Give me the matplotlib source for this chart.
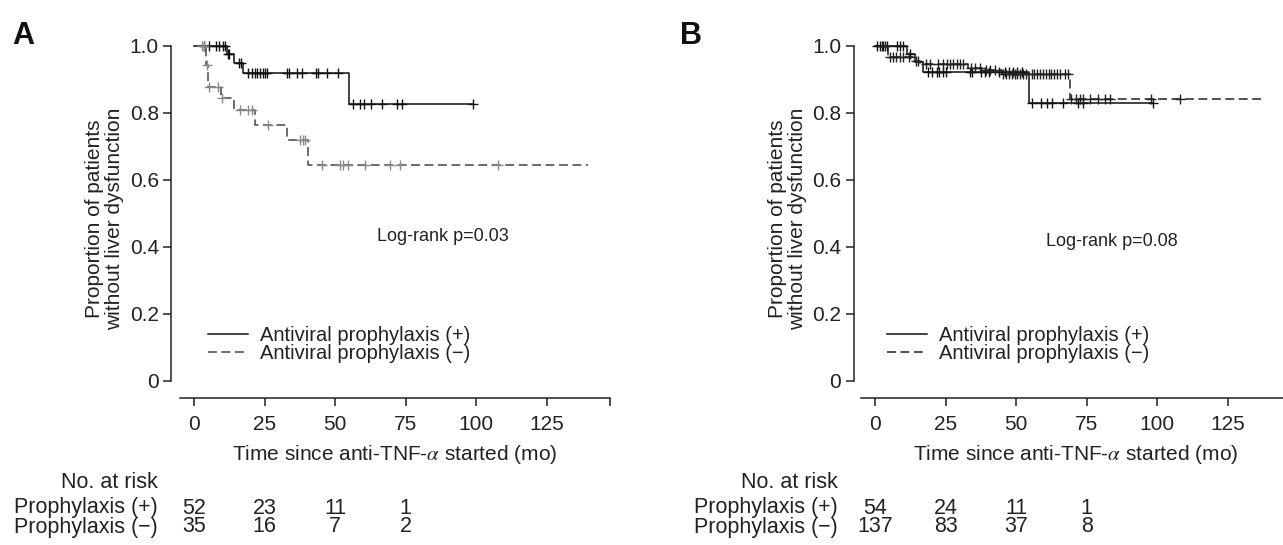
import numpy as np
import matplotlib
matplotlib.use("Agg")
import matplotlib.pyplot as plt
from matplotlib.lines import Line2D

plt.rcParams['font.family'] = ['Liberation Sans', 'DejaVu Sans']
plt.rcParams['mathtext.fontset'] = 'stix'

# ---------------- data ----------------
# Panel A
A_pos_event_t = [11.6, 14.2, 17.2, 54.8]
A_pos_event_s = [0.975, 0.948, 0.918, 0.827]
A_pos_end = 98.9
A_pos_cens = [3.5, 5.4, 7.8, 9.0, 10.2, 11.1, 11.9, 12.5, 16.1, 16.7, 19.2, 20.4,
              21.6, 22.4, 23.4, 24.3, 25.1, 25.9, 32.8, 33.6, 36.4, 38.4, 43.4,
              44.0, 47.0, 51.1, 56.2, 58.8, 60.2, 62.9, 66.8, 72.0, 73.9, 98.9]

A_neg_event_t = [4.3, 4.8, 9.4, 14.3, 21.6, 32.8, 40.5]
A_neg_event_s = [0.943, 0.879, 0.844, 0.809, 0.764, 0.719, 0.645]
A_neg_end = 139.5
A_neg_cens = [3.0, 3.6, 4.6, 5.2, 8.6, 10.0, 16.3, 19.2, 20.4, 26.3, 37.5, 38.5,
              39.3, 45.2, 51.7, 52.9, 54.6, 60.6, 69.4, 72.9, 107.8]

# Panel B
B_pos_event_t = [11.2, 14.2, 16.9, 54.6]
B_pos_event_s = [0.976, 0.952, 0.923, 0.831]
B_pos_end = 98.5
B_pos_cens = [0.6, 1.8, 3.0, 4.1, 7.7, 8.9, 10.0, 12.5, 18.9, 20.1, 21.8, 22.8,
              24.0, 25.1, 33.6, 34.5, 37.5, 39.0, 40.5, 44.0, 46.0, 47.5, 49.0,
              50.5, 52.0, 55.8, 59.0, 60.8, 62.6, 66.7, 72.0, 73.8, 98.5]

B_neg_event_t = [4.7, 13.5, 16.0, 33.0, 38.0, 45.0, 69.0]
B_neg_event_s = [0.968, 0.955, 0.945, 0.935, 0.927, 0.915, 0.842]
B_neg_end = 138.0
B_neg_cens = [2.4, 3.5, 5.2, 6.4, 7.6, 8.8, 10.0, 12.0, 14.5, 15.2, 18.0, 19.5,
              22.4, 24.2, 25.4, 26.5, 27.7, 28.9, 30.1, 31.3, 34.0, 35.5, 37.1,
              39.5, 40.7, 42.5, 45.5, 46.5, 47.5, 48.5, 49.5, 50.5, 51.5, 52.5,
              53.5, 55.5, 56.5, 57.5, 58.5, 59.5, 60.5, 61.5, 62.5, 63.5, 64.5,
              65.5, 67.5, 68.3, 69.6, 71.4, 72.6, 73.8, 76.1, 79.1, 81.5, 83.2,
              98.0, 108.0]

x_ticks = [0, 25, 50, 75, 100, 125]
y_ticks = [0, 0.2, 0.4, 0.6, 0.8, 1.0]
y_tick_labels = ["0", "0.2", "0.4", "0.6", "0.8", "1.0"]
risk_times = [0, 25, 50, 75]
A_risk_pos = [52, 23, 11, 1]
A_risk_neg = [35, 16, 7, 2]
B_risk_pos = [54, 24, 11, 1]
B_risk_neg = [137, 83, 37, 8]
A_pvalue = "Log-rank p=0.03"
B_pvalue = "Log-rank p=0.08"
legend_labels = ["Antiviral prophylaxis (+)", "Antiviral prophylaxis (\u2212)"]
risk_labels = ["Prophylaxis (+)", "Prophylaxis (\u2212)"]

# ---------------- figure ----------------
W, H = 1283, 545
fig = plt.figure(figsize=(W / 100, H / 100), dpi=100)

DASH = (0, (5.8, 3.0))
FS_TICK = 15
FS_LAB = 15
TXT = '#222222'


def km(ax, ev_t, ev_s, end, cens, ls, lcol, mcol):
    t = [0] + list(ev_t) + [end]
    s = [1.0] + list(ev_s) + [ev_s[-1]]
    ax.step(t, s, where='post', color=lcol, lw=1.1, linestyle=ls, zorder=3)
    ev_t = np.asarray(ev_t)
    sv = np.asarray([1.0] + list(ev_s))
    idx = np.searchsorted(ev_t, np.asarray(cens), side='right')
    ax.plot(cens, sv[idx], linestyle='none', marker='+', ms=7, mew=1.0,
            color=mcol, zorder=4)


def setup(ax, xmin):
    ax.set_xlim(xmin, 150)
    ax.set_ylim(-0.051, 1.02)
    for s in ['top', 'right']:
        ax.spines[s].set_visible(False)
    ax.spines['left'].set_bounds(0, 1)
    ax.spines['bottom'].set_bounds(-5, 147.5)
    for s in ['left', 'bottom']:
        ax.spines[s].set_linewidth(1.1)
        ax.spines[s].set_color(TXT)
    ax.set_xticks(x_ticks)
    ax.set_xticks([147.5], minor=True)
    ax.set_yticks(y_ticks)
    ax.set_yticklabels(y_tick_labels)
    ax.tick_params(axis='both', which='both', direction='out', length=6,
                   width=1.1, colors=TXT, labelsize=FS_TICK)
    ax.tick_params(axis='x', pad=6)
    ax.tick_params(axis='y', pad=3)
    ax.set_xlabel(r"Time since anti-TNF-$\alpha$ started (mo)", fontsize=FS_LAB,
                  color=TXT, labelpad=6.5)
    ax.set_ylabel("Proportion of patients\nwithout liver dysfunction",
                  fontsize=FS_LAB, color=TXT, labelpad=4, linespacing=1.05)


ax_bottom = (H - 398) / H
ax_height = 358.7 / H
pxu = 2.8213  # px per month

axA = fig.add_axes([(194 - 8 * pxu) / W, ax_bottom, 158 * pxu / W, ax_height])
axB = fig.add_axes([(875 - 7.5 * pxu) / W, ax_bottom, 157.5 * pxu / W, ax_height])

setup(axA, -8)
setup(axB, -7.5)

km(axA, A_pos_event_t, A_pos_event_s, A_pos_end, A_pos_cens, '-', '#111111', '#111111')
km(axA, A_neg_event_t, A_neg_event_s, A_neg_end, A_neg_cens, DASH, '#444444', '#8a8a8a')
km(axB, B_pos_event_t, B_pos_event_s, B_pos_end, B_pos_cens, '-', '#111111', '#111111')
km(axB, B_neg_event_t, B_neg_event_s, B_neg_end, B_neg_cens, DASH, '#222222', '#222222')

axA.text(88.3, 0.43, A_pvalue, fontsize=13, ha='center', va='center', color=TXT)
axB.text(84, 0.415, B_pvalue, fontsize=13, ha='center', va='center', color=TXT)

for ax, neg_col, anchor_x in [(axA, '#444444', 0.0823), (axB, '#222222', 0.0746)]:
    handles = [Line2D([], [], color='#111111', lw=1.1),
               Line2D([], [], color=neg_col, lw=1.1, linestyle=DASH)]
    ax.legend(handles, legend_labels, loc='upper left', bbox_to_anchor=(anchor_x, 0.2),
              frameon=False, fontsize=14.5, handlelength=2.0, handletextpad=0.6,
              borderpad=0, borderaxespad=0, labelspacing=-0.08,
              labelcolor=TXT)

# panel letters
fig.text(12 / W, 1 - 43.5 / H, "A", fontsize=22, fontweight='bold', ha='left',
         va='baseline', color='#111111')
fig.text(680 / W, 1 - 43.5 / H, "B", fontsize=22, fontweight='bold', ha='left',
         va='baseline', color='#111111')

# risk tables
FS_RISK = 15.5
for ax, lab_x, rpos, rneg in [(axA, 158, A_risk_pos, A_risk_neg),
                              (axB, 838, B_risk_pos, B_risk_neg)]:
    fig.text(lab_x / W, 1 - 482 / H, "No. at risk", fontsize=FS_RISK, ha='right',
             va='center', color=TXT)
    fig.text(lab_x / W, 1 - 508 / H, risk_labels[0], fontsize=FS_RISK, ha='right',
             va='center', color=TXT)
    fig.text(lab_x / W, 1 - 527 / H, risk_labels[1], fontsize=FS_RISK, ha='right',
             va='center', color=TXT)
    trans = matplotlib.transforms.blended_transform_factory(ax.transData, fig.transFigure)
    for t, a, b in zip(risk_times, rpos, rneg):
        ax.text(t, 1 - 508 / H, str(a), transform=trans, fontsize=FS_RISK,
                ha='center', va='center', color=TXT, clip_on=False)
        ax.text(t, 1 - 527 / H, str(b), transform=trans, fontsize=FS_RISK,
                ha='center', va='center', color=TXT, clip_on=False)

fig.savefig("out.png", dpi=100)
